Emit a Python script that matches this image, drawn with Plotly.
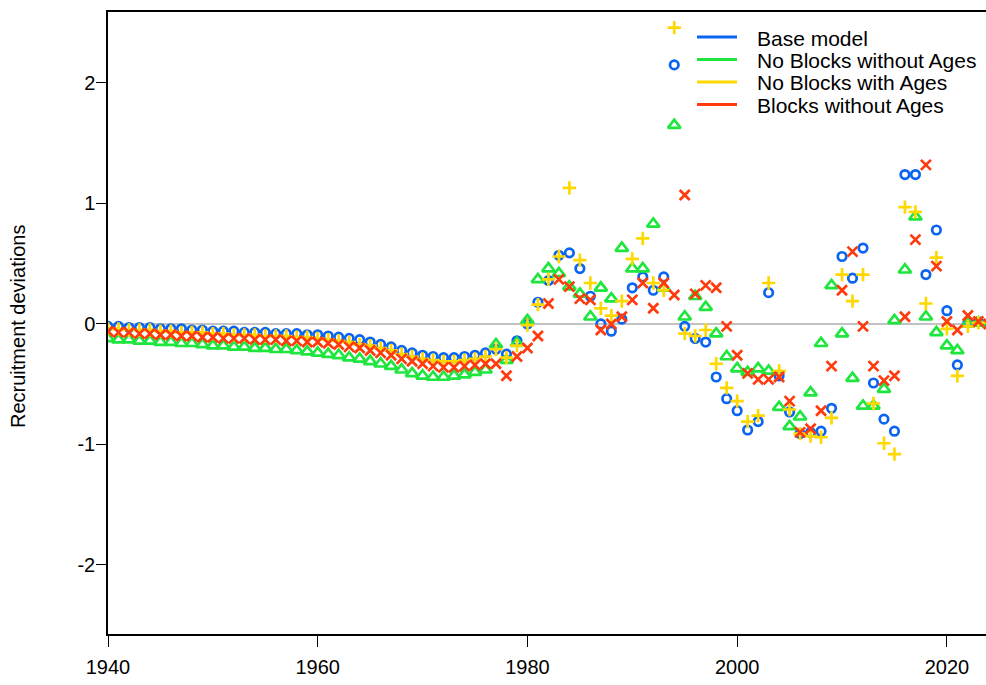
import plotly.graph_objects as go

# Recruitment deviations by year for four model runs
years = list(range(1940, 2025))

base_model = [
    -0.02, -0.02, -0.03, -0.03, -0.03, -0.04, -0.04, -0.04, -0.05, -0.05,
    -0.06, -0.06, -0.06, -0.07, -0.07, -0.07, -0.08, -0.08, -0.08, -0.09,
    -0.09, -0.10, -0.11, -0.12, -0.13, -0.15, -0.17, -0.19, -0.22, -0.24,
    -0.26, -0.27, -0.28, -0.28, -0.27, -0.26, -0.24, -0.21, -0.25, -0.14,
    0.00, 0.18, 0.36, 0.57, 0.59, 0.46, 0.23, 0.00, -0.06, 0.04,
    0.30, 0.39, 0.28, 0.39, 2.15, -0.02, -0.12, -0.15, -0.44, -0.62,
    -0.72, -0.88, -0.81, 0.26, -0.43, -0.73, -0.91, -0.90, -0.89, -0.70,
    0.56, 0.38, 0.63, -0.49, -0.79, -0.89, 1.24, 1.24, 0.41, 0.78,
    0.11, -0.34, 0.01, 0.02, 0.00,
]

no_blocks_without_ages = [
    -0.12, -0.13, -0.13, -0.14, -0.14, -0.15, -0.15, -0.16, -0.16, -0.17,
    -0.18, -0.18, -0.19, -0.19, -0.20, -0.20, -0.21, -0.21, -0.22, -0.23,
    -0.24, -0.25, -0.26, -0.28, -0.29, -0.31, -0.33, -0.35, -0.38, -0.41,
    -0.43, -0.44, -0.44, -0.43, -0.42, -0.40, -0.38, -0.17, -0.30, -0.16,
    0.03, 0.37, 0.46, 0.42, 0.31, 0.25, 0.06, 0.30, 0.21, 0.63,
    0.46, 0.46, 0.83, 0.30, 1.65, 0.06, 0.23, 0.14, -0.08, -0.27,
    -0.37, -0.40, -0.37, -0.39, -0.69, -0.85, -0.77, -0.57, -0.16, 0.32,
    -0.08, -0.45, -0.68, -0.68, -0.54, 0.03, 0.45, 0.89, 0.06, -0.07,
    -0.18, -0.22, 0.00, 0.01, 0.00,
]

no_blocks_with_ages = [
    -0.04, -0.04, -0.05, -0.05, -0.05, -0.06, -0.06, -0.07, -0.07, -0.07,
    -0.08, -0.08, -0.09, -0.09, -0.09, -0.10, -0.10, -0.10, -0.11, -0.11,
    -0.12, -0.13, -0.14, -0.15, -0.17, -0.18, -0.20, -0.22, -0.25, -0.27,
    -0.29, -0.30, -0.31, -0.31, -0.30, -0.29, -0.27, -0.21, -0.28, -0.18,
    -0.01, 0.16, 0.37, 0.56, 1.13, 0.53, 0.34, 0.13, 0.07, 0.19,
    0.54, 0.71, 0.34, 0.28, 2.46, -0.08, -0.10, -0.05, -0.33, -0.53,
    -0.64, -0.81, -0.76, 0.34, -0.39, -0.71, -0.91, -0.93, -0.94, -0.78,
    0.41, 0.19, 0.41, -0.66, -0.99, -1.08, 0.97, 0.93, 0.17, 0.55,
    -0.04, -0.43, -0.02, 0.01, 0.01,
]

blocks_without_ages = [
    -0.06, -0.07, -0.07, -0.08, -0.08, -0.09, -0.09, -0.10, -0.10, -0.11,
    -0.11, -0.12, -0.12, -0.12, -0.13, -0.13, -0.13, -0.14, -0.14, -0.15,
    -0.15, -0.16, -0.17, -0.19, -0.20, -0.22, -0.24, -0.26, -0.29, -0.31,
    -0.33, -0.35, -0.36, -0.36, -0.35, -0.34, -0.33, -0.33, -0.43, -0.27,
    -0.20, -0.10, 0.17, 0.37, 0.31, 0.21, 0.20, -0.05, 0.00, 0.06,
    0.20, 0.34, 0.13, 0.34, 0.24, 1.07, 0.25, 0.32, 0.30, -0.02,
    -0.26, -0.41, -0.46, -0.46, -0.44, -0.64, -0.90, -0.87, -0.72, -0.35,
    0.28, 0.60, -0.02, -0.35, -0.47, -0.43, 0.06, 0.70, 1.32, 0.48,
    0.02, -0.05, 0.07, 0.02, 0.00,
]

series_names = ["Base model", "No Blocks without Ages",
                "No Blocks with Ages", "Blocks without Ages"]
series_values = [base_model, no_blocks_without_ages,
                 no_blocks_with_ages, blocks_without_ages]

x_tick_vals = [1940, 1960, 1980, 2000, 2020]
y_tick_vals = [-2, -1, 0, 1, 2]
y_tick_text = ["-2", "-1", "0", "1", "2"]

colors = ["#0A64F2", "#1EE63E", "#FFD800", "#FF3A0C"]
symbols = ["circle-open", "triangle-up-open", "cross-thin-open", "x-thin-open"]
sizes = [8.5, 11, 9.5, 10]

FONT = "Liberation Sans, Arial, Helvetica, sans-serif"

# plot area in pixels
W, H = 986, 685
L, R, T, B = 108, 0, 12, 51
PW, PH = W - L - R, H - T - B


def px_x(px):
    return (px - L) / PW


def px_y(py):
    return 1 - (py - T) / PH


fig = go.Figure()

# zero reference line
fig.add_shape(type="line", xref="paper", x0=0, x1=1, yref="y", y0=0, y1=0,
              line=dict(color="#C2C2C2", width=2), layer="below")

for name, vals, col, sym, sz in zip(series_names, series_values, colors, symbols, sizes):
    fig.add_trace(go.Scatter(
        x=years, y=vals, mode="markers", name=name, showlegend=False,
        marker=dict(symbol=sym, size=sz, color=col,
                    line=dict(color=col, width=2.7)),
    ))

# legend: coloured line segments with labels
row_y = [37, 59.5, 82, 104.5]
for name, col, ry in zip(series_names, colors, row_y):
    fig.add_shape(type="line", xref="paper", yref="paper",
                  x0=px_x(697), x1=px_x(737), y0=px_y(ry), y1=px_y(ry),
                  line=dict(color=col, width=3))
    fig.add_annotation(text=name, xref="paper", yref="paper",
                       x=px_x(755), y=px_y(ry + 1), xanchor="left", yanchor="middle",
                       showarrow=False, font=dict(family=FONT, size=21, color="black"))

# y-axis title
fig.add_annotation(text="Recruitment deviations", xref="paper", yref="paper",
                   x=0, y=px_y(327), xshift=-90, textangle=-90,
                   xanchor="center", yanchor="middle", showarrow=False,
                   font=dict(family=FONT, size=20, color="black"))

fig.update_layout(
    width=W, height=H,
    margin=dict(l=L, r=R, t=T, b=B),
    plot_bgcolor="white", paper_bgcolor="white",
    showlegend=False,
    font=dict(family=FONT, size=20, color="black"),
)

fig.update_xaxes(
    range=[1940, 2023.73], tickvals=x_tick_vals,
    showline=True, linecolor="black", linewidth=1.5, mirror=True,
    ticks="outside", ticklen=11, tickwidth=1.3, tickcolor="black",
    ticklabelstandoff=3,
    showgrid=False, zeroline=False,
    tickfont=dict(family=FONT, size=20, color="black"),
)
fig.update_yaxes(
    range=[-2.573, 2.589], tickvals=y_tick_vals, ticktext=y_tick_text,
    showline=True, linecolor="black", linewidth=1.5, mirror=False,
    ticks="outside", ticklen=10, tickwidth=1.3, tickcolor="black",
    ticklabelstandoff=-3,
    showgrid=False, zeroline=False,
    tickfont=dict(family=FONT, size=20, color="black"),
)

fig.write_html("out.html", config={"displayModeBar": False})
